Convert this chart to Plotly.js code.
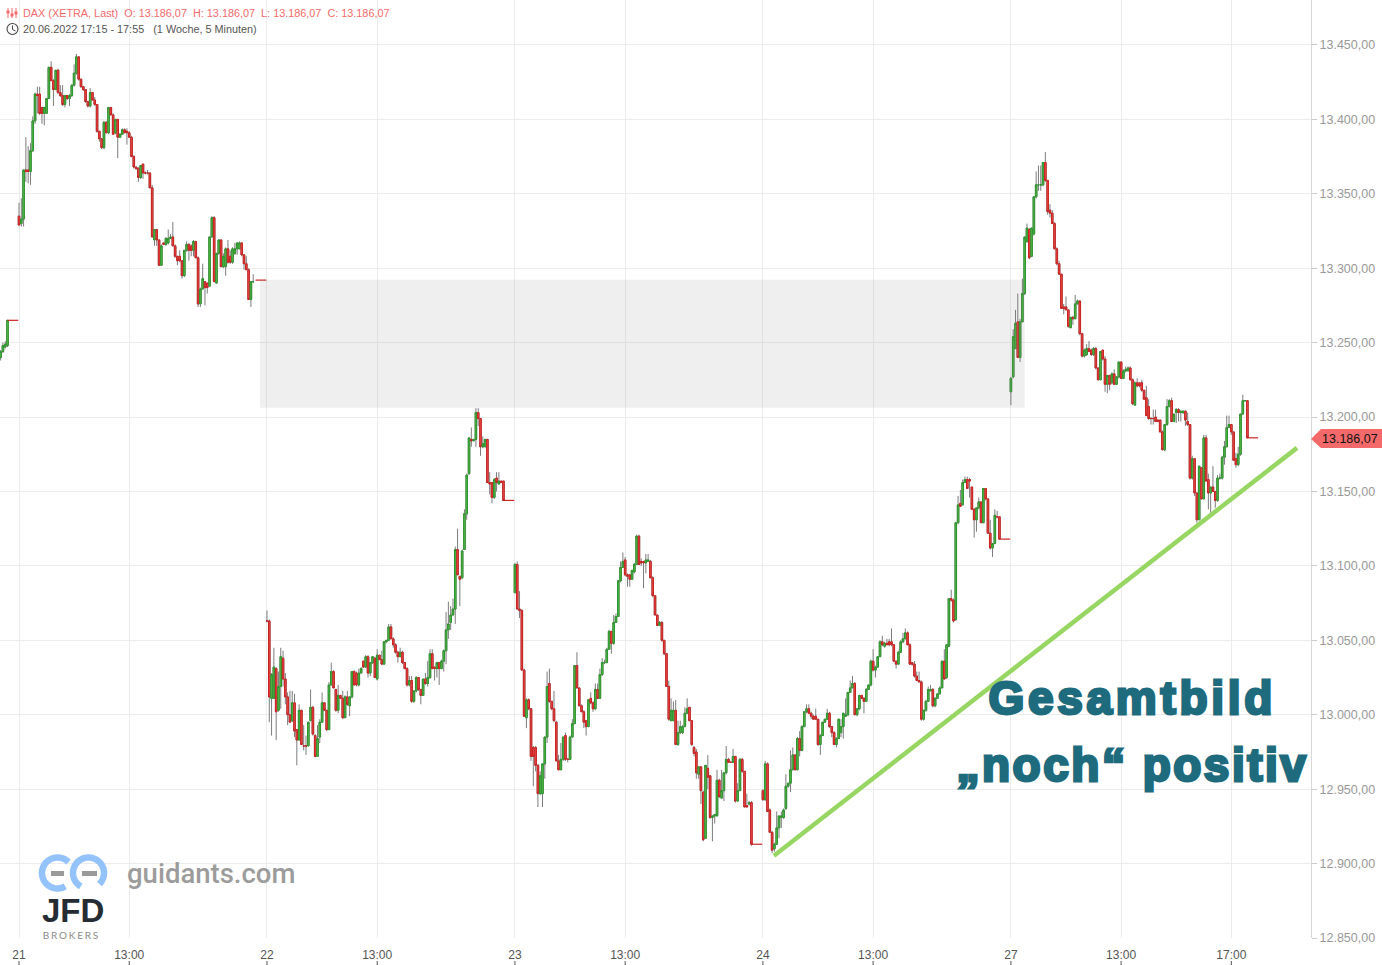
<!DOCTYPE html>
<html><head><meta charset="utf-8">
<script src="https://cdn.plot.ly/plotly-3.0.1.min.js"></script>
<style>html,body{margin:0;padding:0;background:#fff;overflow:hidden}#c{width:1382px;height:965px}</style>
</head><body><div id="c"></div>
<script>
// Each candle: [open, close, high, low]; 5-minute slots from 09:00 of that trading day.
const day20Tail=[[13240,13244,13245,13238],[13244,13248,13250,13243],[13247,13249,13251,13246],[13248,13265,13265,13247]];
const day21=[[13335,13329,13344,13329],[13330,13333,13347,13328],[13333,13366,13366,13328],[13366,13365,13388,13358],[13366,13365,13382,13357],[13365,13379,13384,13356],[13379,13399,13402,13378],[13399,13417,13418,13397],[13417,13416,13422,13404],[13417,13404,13422,13403],[13408,13404,13408,13397],[13404,13408,13408,13396],[13404,13414,13414,13404],[13414,13435,13435,13414],[13435,13426,13439,13426],[13426,13420,13427,13409],[13420,13433,13433,13420],[13433,13418,13434,13417],[13418,13416,13423,13415],[13416,13410,13423,13409],[13410,13416,13416,13408],[13416,13414,13416,13413],[13414,13416,13417,13409],[13416,13423,13423,13415],[13423,13431,13437,13422],[13431,13442,13444,13430],[13442,13427,13442,13426],[13427,13422,13427,13421],[13422,13420,13422,13419],[13420,13412,13420,13411],[13412,13409,13412,13408],[13409,13418,13421,13408],[13418,13413,13418,13413],[13413,13410,13415,13409],[13410,13392,13410,13391],[13392,13387,13392,13385],[13387,13381,13387,13380],[13381,13398,13399,13380],[13398,13391,13399,13391],[13391,13408,13408,13390],[13408,13403,13408,13403],[13403,13390,13404,13390],[13391,13400,13400,13390],[13400,13388,13400,13374],[13388,13390,13391,13388],[13390,13393,13394,13390],[13393,13391,13394,13391],[13392,13391,13394,13383],[13391,13388,13392,13388],[13388,13375,13389,13375],[13375,13368,13376,13367],[13368,13367,13368,13366],[13367,13361,13368,13358],[13361,13369,13369,13360],[13370,13364,13370,13360],[13364,13364,13365,13363],[13364,13364,13366,13363],[13364,13354,13364,13354],[13354,13321,13356,13321],[13319,13326,13326,13315],[13326,13319,13326,13315],[13319,13302,13319,13302],[13302,13315,13316,13302],[13317,13316,13317,13316],[13316,13320,13321,13315],[13317,13320,13326,13316],[13320,13321,13323,13320],[13321,13315,13331,13315],[13315,13308,13316,13307],[13308,13305,13308,13302],[13308,13305,13312,13304],[13305,13295,13305,13293],[13295,13312,13312,13294],[13312,13316,13318,13311],[13316,13312,13317,13305],[13315,13312,13316,13308],[13312,13318,13319,13308],[13318,13307,13318,13307],[13307,13276,13308,13274],[13276,13286,13287,13274],[13286,13293,13303,13286],[13291,13287,13291,13275],[13290,13287,13290,13283],[13288,13321,13321,13288],[13321,13334,13335,13321],[13334,13291,13335,13291],[13290,13310,13310,13290],[13310,13319,13319,13309],[13319,13301,13319,13301],[13301,13308,13310,13300],[13301,13313,13314,13295],[13313,13304,13319,13303],[13308,13304,13312,13303],[13304,13313,13314,13303],[13310,13313,13317,13309],[13313,13317,13317,13309],[13313,13317,13318,13313],[13317,13309,13317,13308],[13309,13303,13309,13299],[13303,13299,13308,13299],[13299,13279,13300,13279],[13279,13291,13291,13274],[13291,13291,13296,13290]];
const day22=[[13063,13063,13070,13062],[13063,13012,13064,12995],[13011,13027,13028,12986],[13011,13032,13045,13011],[13031,13002,13032,12983],[13003,13019,13029,13002],[13019,13039,13045,13004],[13038,13024,13043,13019],[13024,13012,13028,13007],[13012,13000,13015,12993],[13000,12995,13016,12995],[12996,13008,13016,12995],[13008,12989,13014,12985],[12990,12983,12990,12966],[12983,13003,13007,12983],[13003,12980,13003,12980],[12979,12979,12993,12976],[12979,12979,12986,12973],[12979,12995,12995,12979],[12996,13005,13017,12996],[13005,12987,13006,12986],[12986,12972,12987,12972],[12972,12984,12993,12972],[12985,12995,12997,12981],[12995,13008,13015,12995],[13008,13003,13008,13003],[13003,12990,13003,12989],[12990,13020,13022,12990],[13020,13029,13035,13020],[13029,13018,13030,13018],[13017,13003,13017,13002],[13003,13013,13020,13001],[13013,13011,13013,13011],[13011,12998,13016,12997],[12998,13012,13013,12998],[13012,13007,13016,13006],[13006,13012,13012,12999],[13012,13029,13029,13011],[13029,13020,13030,13020],[13028,13020,13029,13019],[13020,13028,13031,13019],[13028,13031,13032,13028],[13036,13032,13036,13032],[13032,13039,13040,13032],[13039,13028,13040,13025],[13028,13035,13035,13026],[13035,13039,13039,13034],[13038,13025,13039,13025],[13024,13040,13044,13023],[13040,13037,13040,13037],[13037,13034,13043,13034],[13034,13049,13049,13034],[13049,13050,13050,13048],[13050,13059,13061,13050],[13059,13051,13061,13051],[13051,13047,13052,13045],[13047,13042,13048,13041],[13042,13039,13043,13035],[13039,13042,13045,13039],[13042,13035,13043,13034],[13035,13031,13035,13031],[13031,13020,13032,13019],[13020,13023,13026,13019],[13023,13009,13026,13008],[13009,13016,13016,13008],[13016,13025,13026,13015],[13025,13017,13025,13016],[13017,13013,13017,13007],[13013,13024,13024,13013],[13024,13021,13028,13020],[13021,13025,13036,13019],[13025,13041,13044,13024],[13041,13031,13044,13031],[13032,13031,13032,13023],[13031,13035,13035,13025],[13035,13031,13035,13020],[13031,13036,13037,13031],[13036,13043,13044,13029],[13043,13057,13069,13034],[13057,13061,13076,13051],[13062,13067,13073,13057],[13067,13071,13078,13067],[13071,13111,13113,13061],[13111,13094,13125,13094],[13093,13091,13093,13073],[13092,13110,13111,13091],[13111,13135,13138,13111],[13135,13161,13162,13131],[13162,13186,13186,13161],[13185,13184,13193,13180],[13184,13185,13185,13184],[13185,13203,13206,13180],[13203,13199,13206,13194],[13199,13180,13199,13174],[13180,13182,13187,13179],[13180,13185,13185,13180],[13185,13156,13185,13156],[13156,13155,13163,13148],[13156,13146,13156,13142],[13146,13158,13159,13145],[13159,13156,13163,13150],[13155,13157,13163,13155],[13157,13156,13157,13156],[13157,13144,13157,13144]];
const day23=[[13082,13101,13102,13082],[13101,13071,13103,13071],[13071,13070,13083,13065],[13070,13030,13071,13030],[13030,12999,13031,12999],[12998,13010,13011,12991],[13010,13004,13011,13003],[13004,12972,13004,12969],[12978,12972,12979,12952],[12978,12966,12979,12962],[12966,12947,12967,12938],[12947,12959,12962,12946],[12947,12967,12967,12938],[12967,12985,12985,12957],[12985,13019,13029,12981],[13021,13009,13031,13008],[13009,13004,13009,13003],[13004,12996,13016,12995],[12995,12969,12996,12969],[12969,12963,12973,12963],[12963,12970,12981,12963],[12970,12985,12985,12969],[12986,12970,12988,12969],[12970,12970,12971,12968],[12970,12985,12986,12970],[12985,12994,12997,12985],[12994,13033,13033,12994],[13033,13018,13042,13018],[13018,13006,13018,13006],[13006,13002,13007,13002],[13002,12995,13003,12991],[12996,12992,12996,12986],[12992,13010,13010,12992],[13011,13008,13015,13007],[13008,13004,13009,13002],[13004,13017,13021,13003],[13017,13011,13021,13011],[13011,13027,13031,13011],[13027,13035,13038,13026],[13035,13035,13037,13034],[13035,13044,13045,13035],[13044,13056,13057,13044],[13056,13048,13056,13041],[13048,13062,13067,13047],[13062,13066,13068,13062],[13066,13090,13090,13066],[13090,13099,13103,13089],[13099,13103,13109,13099],[13104,13094,13106,13093],[13094,13093,13095,13086],[13094,13091,13094,13086],[13091,13097,13097,13091],[13096,13101,13102,13095],[13101,13120,13121,13101],[13120,13101,13121,13101],[13103,13102,13105,13100],[13103,13102,13103,13085],[13102,13104,13108,13095],[13103,13104,13108,13103],[13103,13092,13104,13092],[13092,13080,13093,13079],[13080,13067,13080,13067],[13067,13060,13067,13060],[13060,13062,13063,13060],[13062,13050,13063,13049],[13050,13041,13050,13040],[13041,13019,13041,13019],[13019,12997,13023,12996],[12996,13003,13011,12996],[12996,13003,13009,12996],[13003,12980,13010,12980],[12980,12988,12996,12979],[12988,12992,12996,12987],[12988,12992,12993,12987],[12992,13001,13005,12992],[13001,13004,13011,13001],[13005,12996,13005,12996],[12996,12980,12996,12979],[12978,12974,12979,12972],[12975,12961,12977,12957],[12960,12965,12965,12957],[12965,12949,12965,12940],[12948,12916,12949,12915],[12917,12966,12966,12917],[12964,12958,12973,12950],[12959,12931,12959,12930],[12931,12932,12932,12915],[12932,12933,12933,12927],[12932,12956,12963,12932],[12956,12945,12957,12944],[12944,12949,12963,12944],[12949,12961,12961,12942],[12961,12970,12979,12960],[12970,12968,12971,12968],[12968,12968,12969,12968],[12968,12972,12977,12968],[12972,12942,12972,12941],[12942,12949,12954,12942],[12949,12970,12971,12949],[12970,12962,12971,12961],[12962,12938,12962,12938],[12939,12938,12947,12938],[12940,12941,12942,12939],[12941,12913,12942,12912]];
const day24=[[12949,12943,12950,12942],[12943,12967,12969,12942],[12967,12935,12968,12935],[12936,12921,12937,12921],[12921,12909,12922,12907],[12910,12913,12914,12908],[12913,12924,12935,12913],[12924,12932,12932,12917],[12931,12932,12935,12924],[12931,12936,12937,12930],[12937,12952,12960,12936],[12952,12954,12954,12951],[12954,12963,12976,12948],[12963,12973,12978,12963],[12973,12963,12973,12963],[12963,12984,12985,12963],[12984,12976,12989,12972],[12976,12992,12993,12976],[12992,13002,13002,12992],[13002,13004,13007,13001],[13004,13001,13007,13001],[13001,12999,13002,12997],[12999,12997,13000,12997],[12999,12997,13004,12997],[12997,12980,12997,12979],[12980,12986,12987,12973],[12986,12995,12995,12986],[12995,12997,12997,12995],[12997,13001,13004,12997],[13001,12992,13002,12991],[12992,12988,12992,12985],[12988,12980,12989,12980],[12980,12984,12985,12978],[12984,12997,12997,12984],[12988,12992,12997,12985],[12992,13001,13001,12984],[12999,13000,13011,12999],[13000,13015,13015,12999],[13015,13018,13023,13015],[13018,13021,13026,13018],[13021,13000,13022,13000],[13000,13004,13004,12999],[13004,13013,13013,13003],[13013,13011,13013,13011],[13011,13009,13012,13001],[13009,13017,13018,13009],[13017,13020,13020,13017],[13020,13036,13037,13019],[13036,13030,13044,13029],[13030,13032,13033,13025],[13032,13039,13039,13032],[13039,13049,13050,13039],[13049,13047,13053,13046],[13046,13048,13049,13045],[13048,13047,13051,13047],[13049,13047,13051,13046],[13049,13047,13058,13046],[13047,13036,13047,13036],[13036,13034,13036,13031],[13034,13042,13043,13034],[13042,13049,13050,13042],[13049,13051,13055,13048],[13051,13055,13058,13051],[13055,13047,13056,13047],[13047,13034,13048,13034],[13035,13034,13035,13033],[13034,13026,13036,13025],[13026,13023,13029,13023],[13023,13022,13029,13022],[13022,12997,13023,12996],[12997,13003,13003,12996],[13003,13009,13010,13002],[13009,13017,13019,13009],[13016,13017,13020,13016],[13017,13006,13018,13005],[13006,13011,13012,13005],[13011,13014,13014,13011],[13014,13018,13019,13014],[13018,13036,13036,13018],[13036,13024,13044,13024],[13025,13047,13047,13024],[13046,13078,13078,13046],[13078,13077,13084,13076],[13077,13063,13078,13062],[13064,13129,13129,13063],[13129,13141,13147,13128],[13142,13140,13151,13140],[13141,13156,13158,13141],[13156,13158,13160,13156],[13158,13152,13160,13152],[13158,13157,13159,13146],[13153,13138,13153,13138],[13138,13131,13139,13119],[13131,13139,13139,13123],[13139,13143,13146,13138],[13143,13129,13143,13129],[13129,13152,13152,13129],[13152,13145,13152,13144],[13145,13122,13145,13122],[13122,13112,13131,13111],[13112,13115,13115,13106],[13115,13134,13138,13115],[13133,13133,13137,13132],[13133,13118,13133,13118]];
const day27=[[13217,13226,13227,13208],[13227,13254,13259,13226],[13246,13263,13272,13246],[13264,13240,13283,13240],[13240,13264,13266,13237],[13264,13283,13293,13264],[13283,13321,13321,13282],[13318,13327,13330,13317],[13326,13307,13327,13306],[13308,13327,13327,13308],[13323,13348,13348,13322],[13348,13356,13365,13347],[13356,13356,13369,13352],[13356,13356,13369,13352],[13356,13371,13371,13355],[13371,13359,13378,13358],[13359,13338,13359,13336],[13339,13337,13343,13334],[13337,13330,13339,13330],[13330,13313,13331,13313],[13313,13303,13314,13302],[13303,13296,13305,13296],[13296,13273,13296,13273],[13274,13273,13276,13269],[13274,13272,13281,13272],[13272,13261,13272,13260],[13260,13267,13267,13260],[13267,13266,13268,13262],[13266,13276,13282,13266],[13276,13278,13279,13276],[13278,13256,13278,13255],[13256,13241,13256,13240],[13241,13245,13246,13240],[13242,13246,13249,13241],[13246,13244,13251,13244],[13245,13242,13246,13241],[13242,13246,13247,13241],[13246,13233,13247,13232],[13233,13225,13233,13225],[13225,13244,13244,13225],[13245,13239,13245,13238],[13239,13222,13241,13217],[13222,13228,13228,13216],[13228,13222,13228,13218],[13223,13229,13230,13222],[13229,13222,13232,13222],[13222,13227,13227,13222],[13227,13237,13237,13226],[13237,13226,13237,13226],[13226,13231,13232,13226],[13231,13232,13234,13230],[13231,13233,13234,13231],[13233,13225,13234,13225],[13225,13209,13226,13208],[13208,13223,13224,13208],[13223,13221,13226,13220],[13223,13221,13223,13220],[13223,13218,13225,13217],[13218,13212,13218,13212],[13213,13201,13221,13201],[13207,13199,13212,13198],[13199,13199,13200,13195],[13199,13199,13205,13195],[13200,13197,13205,13197],[13198,13197,13198,13197],[13198,13190,13198,13190],[13190,13178,13191,13178],[13178,13195,13195,13177],[13195,13207,13212,13194],[13207,13211,13212,13207],[13211,13197,13213,13197],[13197,13202,13202,13197],[13203,13205,13206,13196],[13205,13203,13206,13197],[13203,13204,13204,13197],[13203,13204,13204,13202],[13204,13198,13204,13194],[13197,13195,13203,13194],[13195,13159,13195,13158],[13159,13172,13174,13158],[13172,13149,13172,13147],[13149,13131,13149,13129],[13131,13167,13167,13131],[13166,13145,13166,13145],[13145,13186,13188,13145],[13186,13157,13188,13157],[13158,13149,13162,13138],[13149,13153,13153,13135],[13153,13150,13167,13150],[13150,13144,13150,13139],[13144,13159,13161,13143],[13159,13159,13162,13158],[13159,13173,13174,13158],[13173,13180,13184,13168],[13180,13193,13201,13180],[13193,13195,13201,13193],[13195,13190,13195,13188],[13190,13171,13190,13171],[13172,13168,13176,13166],[13168,13175,13180,13167],[13175,13202,13202,13174],[13202,13211,13215,13202],[13211,13211,13211,13211],[13211,13186,13211,13186]];
// The closing 17:15 - 17:55 candle of each day is one wide flat candle.
const lastCandleClose=[13265,13292,13144,12913,13118,13186.07];
const dayFirstSlot=[-108,0,108,216,324,432];
const lastCandleFrom=103, lastCandleTo=107.7;
const priceTicks=[12850,12900,12950,13000,13050,13100,13150,13200,13250,13300,13350,13400,13450];
const priceLabels=["12.850,00","12.900,00","12.950,00","13.000,00","13.050,00","13.100,00","13.150,00","13.200,00","13.250,00","13.300,00","13.350,00","13.400,00","13.450,00"];
const timeTicks=[0,48,108,156,216,264,324,372,432,480,528];
const timeLabels=["21","13:00","22","13:00","23","13:00","24","13:00","27","13:00","17:00"];
const zone={x0:105,x1:438,top:13292.2,bottom:13206.2};
const trendLine={x0:328.8,y0:12905.3,x1:556.6,y1:13179.3};
const lastPrice=13186.07;

const PW=1311,PH=938;
const px=v=>v/PW, py=v=>1-v/PH;
const SANS='"Liberation Sans", Arial, sans-serif';

let xs=[],o=[],c=[],h=[],l=[];
function add(rows,first,offset){rows.forEach((r,i)=>{xs.push(first+offset+i);o.push(r[0]);c.push(r[1]);h.push(r[2]);l.push(r[3]);});}
add(day20Tail,dayFirstSlot[0],100);
[day21,day22,day23,day24,day27].forEach((d,i)=>add(d,dayFirstSlot[i+1],0));
const bodyHi=o.map((v,i)=>Math.max(v,c[i])), bodyLo=o.map((v,i)=>Math.min(v,c[i]));
const RED_L='#cc2222',RED_F='#ee5550',GRN_L='#2e962e',GRN_F='#5cc24e',WICK='#7c7c7c';
let flatX=[],flatY=[];
lastCandleClose.forEach((v,i)=>{flatX.push(dayFirstSlot[i]+lastCandleFrom,dayFirstSlot[i]+lastCandleTo,null);flatY.push(v,v,null);});
const traces=[
 {type:'candlestick',x:xs,open:o,close:c,high:h,low:l,whiskerwidth:0,
  increasing:{line:{color:WICK,width:1},fillcolor:WICK},decreasing:{line:{color:WICK,width:1},fillcolor:WICK},hoverinfo:'skip',showlegend:false},
 {type:'scatter',mode:'lines',x:flatX,y:flatY,line:{color:RED_L,width:1.2},hoverinfo:'skip',showlegend:false,connectgaps:false},
 {type:'candlestick',x:xs,open:o,close:c,high:bodyHi,low:bodyLo,whiskerwidth:0,
  increasing:{line:{color:GRN_L,width:1},fillcolor:GRN_F},decreasing:{line:{color:RED_L,width:1},fillcolor:RED_F},hoverinfo:'skip',showlegend:false}
];

function ln(x0,y0,x1,y1,color,width){return {type:'line',xref:'paper',yref:'paper',x0:px(x0),y0:py(y0),x1:px(x1),y1:py(y1),line:{color,width:width||1},layer:'above'};}
function arc(cx,cy,r,a0,a1){let p=[];const n=48;for(let i=0;i<=n;i++){const a=(a0+(a1-a0)*i/n)*Math.PI/180;p.push((i?'L':'M')+px(cx+r*Math.cos(a))+','+py(cy+r*Math.sin(a)));}return p.join(' ');}
const shapes=[
 {type:'rect',xref:'x',yref:'y',x0:zone.x0,x1:zone.x1,y0:zone.bottom,y1:zone.top,fillcolor:'rgba(130,130,130,0.13)',line:{width:0},layer:'above'},
 {type:'line',xref:'x',yref:'y',x0:trendLine.x0,y0:trendLine.y0,x1:trendLine.x1,y1:trendLine.y1,line:{color:'#98d663',width:4.5},layer:'above'},
 {type:'path',xref:'paper',yref:'paper',path:[[1311,439],[1321,429],[1382,429],[1382,448],[1321,448]].map((p,i)=>(i?'L':'M')+px(p[0])+','+py(p[1])).join(' ')+' Z',fillcolor:'#f46a6a',line:{width:0},layer:'above'},
 // logo
 {type:'path',xref:'paper',yref:'paper',path:arc(57.5,873,15.5,60,315),line:{color:'#94c2fd',width:6.5},layer:'above'},
 {type:'path',xref:'paper',yref:'paper',path:arc(88.5,873,15.5,120,405),line:{color:'#94c2fd',width:6.5},layer:'above'},
 ln(51,873.5,64,873.5,'#9a9a9a',5),ln(82,873.5,97,873.5,'#9a9a9a',5),
 // header icons
 ln(8,8,8,18,'#f46a6a',1),ln(12,8,12,18,'#f46a6a',1),ln(16,8,16,18,'#f46a6a',1),
 ln(6.5,12,9.5,12,'#f46a6a',3),ln(10.5,15,13.5,15,'#f46a6a',3),ln(14.5,13,17.5,13,'#f46a6a',3),
 {type:'circle',xref:'paper',yref:'paper',x0:px(7),x1:px(18),y0:py(34.5),y1:py(23.5),line:{color:'#444',width:1.1},layer:'above'},
 ln(12.5,25.5,12.5,29.5,'#444',1),ln(12.5,29.5,15.5,31,'#444',1)
];
// the small tick marks sit below the time labels
timeTicks.forEach(t=>shapes.push({type:'line',xref:'x',yref:'paper',x0:t,x1:t,y0:py(961),y1:py(965),line:{color:'#555',width:1},layer:'above'}));

function note(text,x,y,size,color,opts){return Object.assign({xref:'paper',yref:'paper',x:px(x),y:py(y),xanchor:'left',yanchor:'middle',showarrow:false,text,font:{family:SANS,size,color}},opts||{});}
const annotations=[
 note('DAX (XETRA, Last)&nbsp;&nbsp;O: 13.186,07&nbsp;&nbsp;H: 13.186,07&nbsp;&nbsp;L: 13.186,07&nbsp;&nbsp;C: 13.186,07',21,13,10.85,'#f46a6a'),
 note('20.06.2022 17:15 - 17:55&nbsp;&nbsp;&nbsp;(1 Woche, 5 Minuten)',21,29,10.85,'#555555'),
 note('13.186,07',1320,439,12.5,'#111111'),
 note('<b>Gesamtbild</b>',1132,698,46,'#1f6b7e',{xanchor:'center'}),
 note('<b>„noch“ positiv</b>',1132.5,765,46,'#1f6b7e',{xanchor:'center'}),
 note('guidants.com',125,873,27.5,'#9c9c9c',{font:{family:'Roboto, sans-serif',size:27.5,color:'#9c9c9c',weight:500}}),
 note('<b>JFD</b>',40,910,33,'#252c33'),
 note('BROKERS',47,935,10,'#8a8a8a',{font:{family:'Lato, sans-serif',size:10,color:'#8a8a8a'}})
];

const layout={
 width:1382,height:965,margin:{l:0,r:71,t:0,b:27,pad:0},paper_bgcolor:'#fff',plot_bgcolor:'#fff',
 font:{family:SANS},showlegend:false,dragmode:false,boxgap:0.05,
 xaxis:{type:'linear',range:[-8.275,562.7],rangeslider:{visible:false},tickmode:'array',tickvals:timeTicks,ticktext:timeLabels,
   showgrid:true,gridcolor:'#ececec',gridwidth:1,zeroline:false,showline:false,ticks:'',tickfont:{size:12,color:'#555'},ticklabelstandoff:8,automargin:false},
 yaxis:{side:'right',range:[12850,13480.2],tickmode:'array',tickvals:priceTicks,ticktext:priceLabels,
   showgrid:true,gridcolor:'#ececec',gridwidth:1,zeroline:false,showline:true,linecolor:'#d8d8d8',linewidth:1,
   ticks:'outside',ticklen:5,tickcolor:'#cccccc',tickfont:{size:12.5,color:'#999'},ticklabelstandoff:2.5,automargin:false},
 shapes,annotations
};
Plotly.newPlot('c',traces,layout,{displayModeBar:false,staticPlot:true}).then(()=>{
 document.querySelectorAll('.annotation-text').forEach(t=>{
  const s=t.textContent;
  if(s==='BROKERS')t.style.letterSpacing='1.8px';
  if(s==='Gesamtbild'){t.style.stroke='#1f6b7e';t.style.strokeWidth='2.8px';t.style.letterSpacing='3.7px';}
  if(s.indexOf('positiv')>=0){t.style.stroke='#1f6b7e';t.style.strokeWidth='2.8px';t.style.letterSpacing='2.5px';}
 });
});
</script></body></html>
